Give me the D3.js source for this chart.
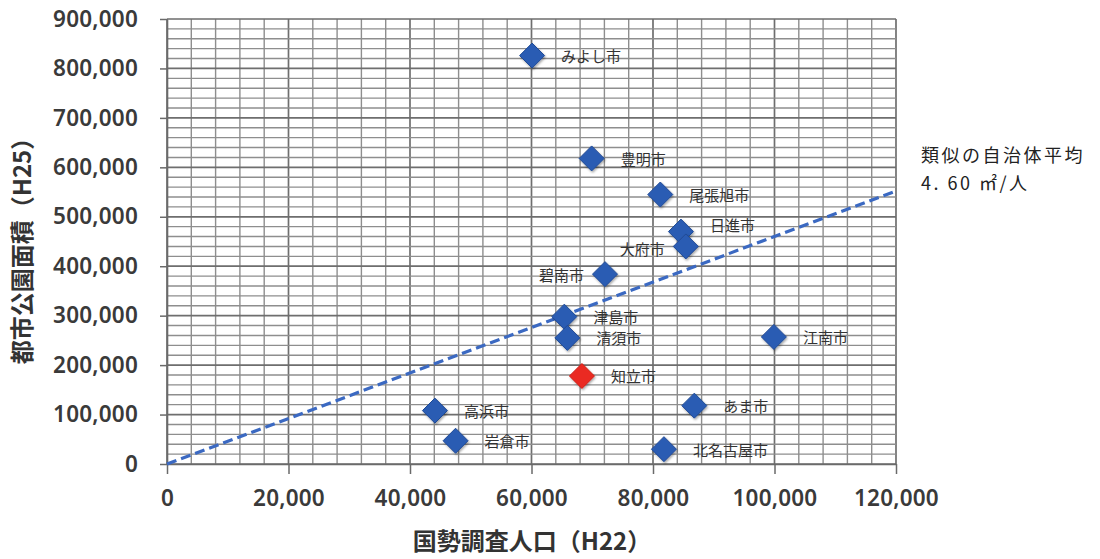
<!DOCTYPE html>
<html lang="ja">
<head>
<meta charset="utf-8">
<script src="https://cdn.jsdelivr.net/npm/d3@7"></script>
<style>
  html, body { margin: 0; padding: 0; background: #fff; }
  svg { display: block; }
  .tick text { font-family: "Noto Sans", "Open Sans", sans-serif; font-weight: 600; fill: #3a3a3a; }
</style>
</head>
<body>
<svg id="chart" width="1100" height="559"></svg>
<script>
// 都市名と値（人口: 国勢調査H22、公園面積: H25 ㎡）
const cities = ["みよし市", "豊明市", "尾張旭市", "日進市", "大府市", "碧南市", "津島市",
                "清須市", "江南市", "知立市", "高浜市", "岩倉市", "あま市", "北名古屋市"];
const population = [60100, 69900, 81200, 84600, 85400, 72100, 65400,
                    65900, 99900, 68300, 44100, 47500, 86800, 81800];
const parkArea = [826000, 618000, 545000, 470000, 440000, 384000, 298000,
                  255000, 257000, 178000, 108000, 47000, 118000, 30000];
const highlightCity = "知立市";

// 類似自治体平均（㎡/人）による基準線
const averagePerCapita = 4.60;
const trendRange = [0, 120000];

// 軸目盛
const xTicks = [0, 20000, 40000, 60000, 80000, 100000, 120000];
const yTicks = [0, 100000, 200000, 300000, 400000, 500000, 600000, 700000, 800000, 900000];

const xTitle = "国勢調査人口（H22）";
const yTitle = "都市公園面積（H25）";
const noteLines = ["類似の自治体平均", "4. 60 ㎡/人"];

// ラベルの置き方（左右と上下の微調整）
const labelSide = { "大府市": "left", "碧南市": "left" };
const labelNudge = { "日進市": -7, "大府市": 2 };

const svg = d3.select("#chart");
const W = 1100, H = 559;
const plot = { left: 167, right: 896, top: 19, bottom: 464 };

const x = d3.scaleLinear().domain([0, 120000]).range([plot.left, plot.right]);
const y = d3.scaleLinear().domain([0, 900000]).range([plot.bottom, plot.top]);

svg.append("rect").attr("width", W).attr("height", H).attr("fill", "#fff");

const defs = svg.append("defs");
const soft = defs.append("filter").attr("id", "soft");
soft.append("feGaussianBlur").attr("stdDeviation", 0.4);
const shadow = defs.append("filter").attr("id", "shadow")
  .attr("x", "-40%").attr("y", "-40%").attr("width", "180%").attr("height", "180%");
shadow.append("feDropShadow").attr("dx", 1).attr("dy", 1.5).attr("stdDeviation", 1.2)
  .attr("flood-color", "#000").attr("flood-opacity", 0.35);
const glow = defs.append("filter").attr("id", "glow");
glow.append("feGaussianBlur").attr("stdDeviation", 0.5);

// 格子線（横 20,000 ごと、縦 4,000 ごと）
const grid = svg.append("g").attr("filter", "url(#soft)");
const vSteps = d3.range(0, 120001, 4000);
const hSteps = d3.range(0, 900001, 20000);
grid.selectAll("line.v").data(vSteps).join("line")
  .attr("x1", d => x(d)).attr("x2", d => x(d))
  .attr("y1", y(0)).attr("y2", y(900000))
  .attr("stroke", d => d % 20000 === 0 ? "#6e6e6e" : "#8e8e8e")
  .attr("stroke-width", d => d % 20000 === 0 ? 1.7 : 1.4);
grid.selectAll("line.h").data(hSteps).join("line")
  .attr("x1", x(0)).attr("x2", x(120000))
  .attr("y1", d => y(d)).attr("y2", d => y(d))
  .attr("stroke", d => d % 100000 === 0 ? "#6e6e6e" : "#8e8e8e")
  .attr("stroke-width", d => d % 100000 === 0 ? 1.7 : 1.4);

// 軸
const yAxis = d3.axisLeft(y).tickValues(yTicks).tickFormat(d3.format(","))
  .tickSize(7).tickSizeOuter(0).tickPadding(22);
const xAxis = d3.axisBottom(x).tickValues(xTicks).tickFormat(d3.format(","))
  .tickSize(10).tickSizeOuter(0).tickPadding(16);

const gy = svg.append("g").attr("transform", `translate(${plot.left},0)`).call(yAxis);
const gx = svg.append("g").attr("transform", `translate(0,${plot.bottom})`).call(xAxis);
[gx, gy].forEach(g => {
  g.select(".domain").attr("stroke", "#6a6a6a").attr("stroke-width", 1.6);
  g.selectAll(".tick line").attr("stroke", "#6a6a6a").attr("stroke-width", 1.5);
  g.selectAll(".tick text").attr("font-size", 22.5).attr("letter-spacing", 0.2);
});

// 軸タイトル
svg.append("text")
  .attr("x", 532).attr("y", 543)
  .attr("text-anchor", "middle").attr("dominant-baseline", "middle")
  .attr("font-family", "'Noto Sans CJK JP', sans-serif")
  .attr("font-weight", 700).attr("font-size", 24).attr("fill", "#333")
  .text(xTitle);
svg.append("text")
  .attr("transform", "translate(24,245) rotate(-90)")
  .attr("text-anchor", "middle").attr("dominant-baseline", "middle")
  .attr("font-family", "'Noto Sans CJK JP', sans-serif")
  .attr("font-weight", 700).attr("font-size", 24).attr("fill", "#333")
  .text(yTitle);

// 平均線
svg.append("line")
  .attr("x1", x(trendRange[0])).attr("y1", y(trendRange[0] * averagePerCapita))
  .attr("x2", x(trendRange[1])).attr("y2", y(trendRange[1] * averagePerCapita))
  .attr("stroke", "#3a69c2").attr("stroke-width", 3.2)
  .attr("stroke-dasharray", "10,5")
  .attr("filter", "url(#glow)");

// 各都市のマーカー
const points = cities.map((c, i) => ({ city: c, pop: population[i], area: parkArea[i] }));
const diamond = r => `M0,${-r}L${r},0L0,${r}L${-r},0Z`;

svg.append("g").selectAll("path").data(points).join("path")
  .attr("d", diamond(12.5))
  .attr("transform", d => `translate(${x(d.pop)},${y(d.area)})`)
  .attr("fill", d => d.city === highlightCity ? "#ea2a22" : "#2c5cb3")
  .attr("stroke", d => d.city === highlightCity ? "#d11d16" : "#1f4a95")
  .attr("stroke-width", 1)
  .attr("filter", "url(#shadow)");

// 都市名ラベル
svg.append("g").selectAll("text").data(points).join("text")
  .attr("x", d => labelSide[d.city] === "left" ? x(d.pop) - 21 : x(d.pop) + 29)
  .attr("y", d => y(d.area) + (labelNudge[d.city] || 0))
  .attr("text-anchor", d => labelSide[d.city] === "left" ? "end" : "start")
  .attr("dominant-baseline", "central")
  .attr("font-family", "'Noto Sans CJK JP', sans-serif")
  .attr("font-size", 15).attr("fill", "#333")
  .text(d => d.city);

// 注記
svg.append("g").selectAll("text").data(noteLines).join("text")
  .attr("x", 921).attr("y", (d, i) => 154 + i * 28)
  .attr("dominant-baseline", "central")
  .attr("font-family", "'Noto Sans CJK JP', sans-serif")
  .attr("font-size", 18).attr("letter-spacing", 2.5).attr("fill", "#222")
  .text(d => d);
</script>
</body>
</html>
